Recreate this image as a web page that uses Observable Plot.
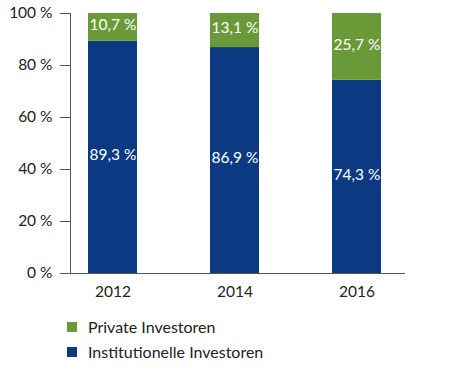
<!DOCTYPE html>
<html><head><meta charset="utf-8">
<script src="https://cdn.jsdelivr.net/npm/d3@7"></script>
<script src="https://cdn.jsdelivr.net/npm/@observablehq/plot@0.6"></script>
<style>
body{margin:0;background:#fff;font-family:"Lato","Open Sans",sans-serif;}
#legend{position:relative;height:84px;}
.item{position:absolute;left:67px;display:flex;align-items:center;font-size:16px;color:#222;line-height:20px;}
.sw{width:10px;height:10px;margin-right:11px;}
</style></head>
<body><div id="chart"></div><div id="legend"></div>
<script>
const years = ["2012", "2014", "2016"];
const institutional = [89.3, 86.9, 74.3];
const privateInv = [10.7, 13.1, 25.7];
const seriesNames = ["Institutionelle Investoren", "Private Investoren"];
const colors = ["#0b3a83", "#6a9a38"];
const yTicks = [0, 20, 40, 60, 80, 100];

const rows = [];
years.forEach((y, i) => {
  rows.push({year: y, series: seriesNames[0], value: institutional[i]});
  rows.push({year: y, series: seriesNames[1], value: privateInv[i]});
});
const fmt = v => v.toFixed(1).replace(".", ",") + " %";

const plot = Plot.plot({
  width: 474, height: 300,
  marginTop: 13, marginBottom: 27, marginLeft: 70, marginRight: 69,
  style: {fontFamily: "Lato, 'Open Sans', sans-serif", fontSize: "15px", color: "#222"},
  x: {domain: years, range: [51.5, 417.5], paddingInner: 0.6, paddingOuter: 0.3, label: null},
  y: {domain: [0, 100], label: null},
  color: {domain: seriesNames, range: colors},
  marks: [
    Plot.barY(rows, Plot.stackY({x: "year", y: "value", fill: "series", order: seriesNames})),
    Plot.text(rows, Plot.stackY({x: "year", y: "value", z: "series", order: seriesNames, text: d => fmt(d.value), fill: "white", fontSize: 15.5, dy: -2})),
    Plot.axisY({ticks: yTicks, tickFormat: d => d + " %", tickSize: 10, tickPadding: 8, stroke: "#555", fontSize: 15.5}),
    Plot.axisX({tickSize: 0, tickPadding: 12, fontSize: 15.5}),
    Plot.frame({anchor: "left", stroke: "#555"}),
    Plot.ruleY([0], {insetLeft: -10, stroke: "#555"})
  ]
});
document.getElementById("chart").appendChild(plot);

const legend = document.getElementById("legend");
[[seriesNames[1], colors[1], 27], [seriesNames[0], colors[0], 52]].forEach(([name, c, top]) => {
  const d = document.createElement("div");
  d.className = "item";
  d.style.top = (top - 10) + "px";
  d.innerHTML = `<span class="sw" style="background:${c}"></span><span>${name}</span>`;
  legend.appendChild(d);
});
</script></body></html>
